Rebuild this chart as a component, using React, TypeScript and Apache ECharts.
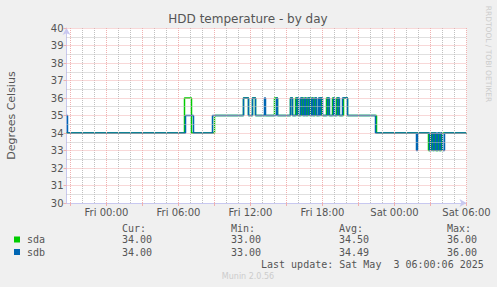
import React, { useEffect, useRef } from "react";
import * as echarts from "echarts";

// time in minutes relative to Fri 00:00
const START_MIN = -200; // Thu 20:40
const END_MIN = 1800; // Sat 06:00

const xTickHours = [0, 6, 12, 18, 24, 30];
const xTickLabels = ["Fri 00:00", "Fri 06:00", "Fri 12:00", "Fri 18:00", "Sat 00:00", "Sat 06:00"];
const yTicks = [30, 31, 32, 33, 34, 35, 36, 37, 38, 39, 40];

// [minutes, value] change points (value held until the next point)
const sdaSteps: [number, number][] = [
  [-200, 34], [390, 36], [425, 34], [540, 35],
  [685, 36], [710, 35], [730, 36], [745, 35],
  [840, 36], [855, 35], [920, 36], [930, 35],
  [945, 36], [955, 35], [975, 36], [985, 35], [995, 36], [1000, 35],
  [1010, 36], [1020, 35], [1030, 36], [1035, 35], [1045, 36], [1050, 35],
  [1065, 36], [1075, 35], [1100, 36], [1110, 35], [1130, 36], [1135, 35],
  [1150, 36], [1160, 35], [1185, 36], [1205, 35],
  [1350, 34],
  [1610, 33], [1620, 34], [1630, 33], [1635, 34], [1645, 33], [1660, 34],
  [1665, 33], [1675, 34], [1800, 34],
];

const sdbSteps: [number, number][] = [
  [-200, 35], [-195, 34], [395, 35], [435, 34], [530, 35],
  [685, 36], [710, 35], [730, 36], [745, 35], [790, 36], [795, 35],
  [850, 36], [855, 35], [920, 36], [930, 35],
  [950, 36], [960, 35], [970, 36], [980, 35], [990, 36], [995, 35],
  [1005, 36], [1015, 35], [1025, 36], [1030, 35], [1040, 36], [1050, 35],
  [1060, 36], [1065, 35], [1070, 36], [1080, 35], [1105, 36], [1115, 35],
  [1135, 36], [1140, 35], [1155, 36], [1165, 35], [1180, 36], [1205, 35],
  [1345, 34],
  [1550, 33], [1555, 34], [1615, 33], [1625, 34], [1635, 33], [1640, 34],
  [1650, 33], [1655, 34], [1665, 33], [1670, 34], [1680, 33], [1690, 34],
  [1800, 34],
];

const seriesNames = ["sda", "sdb"];
const seriesColors = ["#00cc00", "#0066b3"];
const curValues = ["34.00", "34.00"];
const minValues = ["33.00", "33.00"];
const avgValues = ["34.50", "34.49"];
const maxValues = ["36.00", "36.00"];
const lastUpdate = "Last update: Sat May  3 06:00:06 2025";

const RED = "#f0b0b0";
const GREY = "#c0c0c0";
const AXIS = "#c8c8f0";
const MONO = "DejaVu Sans Mono";
const SANS = "DejaVu Sans";

export default function App() {
  const ref = useRef<HTMLDivElement>(null);
  useEffect(() => {
    if (!ref.current) return;
    const chart = echarts.init(ref.current, undefined, { renderer: "svg" });

    const gridLines: any[] = [];
    for (let h = -3; h <= 30; h++) {
      gridLines.push({ xAxis: h, lineStyle: { color: h % 3 === 0 ? RED : GREY, type: [1, 1], width: 1 } });
    }
    for (let v = 30.5; v <= 40; v += 0.5) {
      gridLines.push({ yAxis: v, lineStyle: { color: v % 1 === 0 ? RED : GREY, type: [1, 1], width: 1 } });
    }

    const toData = (s: [number, number][]) => s.map(([m, v]) => [m / 60, v]);

    const legendGraphics: any[] = [];
    const headers = [["Cur:", 122], ["Min:", 231], ["Avg:", 339], ["Max:", 447]] as const;
    headers.forEach(([t, x]) =>
      legendGraphics.push({ type: "text", x, y: 228, style: { text: t, font: `10px '${MONO}'`, fill: "#555", verticalAlign: "middle" } })
    );
    seriesNames.forEach((n, i) => {
      const y = 239.5 + i * 12.5;
      legendGraphics.push({ type: "rect", shape: { x: 14, y: y - 3, width: 6, height: 6 }, style: { fill: seriesColors[i] } });
      legendGraphics.push({ type: "text", x: 27, y, style: { text: n, font: `10px '${MONO}'`, fill: "#555", verticalAlign: "middle" } });
      [curValues[i], minValues[i], avgValues[i], maxValues[i]].forEach((val, j) =>
        legendGraphics.push({ type: "text", x: headers[j][1], y, style: { text: val, font: `10px '${MONO}'`, fill: "#555", verticalAlign: "middle" } })
      );
    });

    chart.setOption({
      animation: false,
      backgroundColor: "#f0f0f0",
      textStyle: { fontFamily: SANS },
      grid: {
        left: 66.5, top: 28, width: 400, height: 175,
        show: true, backgroundColor: "#ffffff", borderWidth: 0,
        containLabel: false, outerBoundsMode: "none",
      },
      xAxis: {
        type: "value",
        min: START_MIN / 60,
        max: END_MIN / 60,
        splitLine: { show: false },
        axisLine: { onZero: false, lineStyle: { color: AXIS, width: 1 }, symbol: ["none", "arrow"], symbolSize: [6, 7] },
        axisTick: { show: true, length: 3, lineStyle: { color: RED }, customValues: [-3, 0, 3, 6, 9, 12, 15, 18, 21, 24, 27, 30] },
        axisLabel: {
          customValues: xTickHours,
          formatter: (v: number) => xTickLabels[xTickHours.indexOf(Math.round(v))] ?? "",
          color: "#555",
          fontSize: 10,
          margin: 4,
          fontFamily: SANS,
        },
      },
      yAxis: {
        type: "value",
        min: 30,
        max: 40,
        interval: 1,
        name: "Degrees Celsius",
        nameLocation: "middle",
        nameGap: 50,
        nameTextStyle: { color: "#555", fontSize: 11, fontFamily: SANS },
        splitLine: { show: false },
        axisLine: { onZero: false, lineStyle: { color: AXIS, width: 1 }, symbol: ["none", "arrow"], symbolSize: [6, 7] },
        axisTick: { show: true, length: 3, lineStyle: { color: RED } },
        axisLabel: {
          color: "#555",
          fontSize: 10,
          margin: 3,
          fontFamily: SANS,
          formatter: (v: number) => (yTicks.includes(v) ? String(v) : ""),
        },
      },
      series: [
        {
          type: "line",
          name: "grid",
          data: [[START_MIN / 60, 30]],
          showSymbol: false,
          lineStyle: { opacity: 0 },
          silent: true,
          z: 1,
          markLine: { symbol: ["none", "none"], silent: true, label: { show: false }, data: gridLines, animation: false },
        },
        {
          type: "line",
          name: seriesNames[0],
          data: toData(sdaSteps),
          step: "end",
          showSymbol: false,
          lineStyle: { color: seriesColors[0], width: 1.5 },
          z: 3,
        },
        {
          type: "line",
          name: seriesNames[1],
          data: toData(sdbSteps),
          step: "end",
          showSymbol: false,
          lineStyle: { color: seriesColors[1], width: 1.5 },
          z: 4,
        },
      ],
      graphic: [
        { type: "text", x: 248, y: 19, style: { text: "HDD temperature - by day", font: `12px '${SANS}'`, fill: "#555", align: "center", verticalAlign: "middle" } },
        { type: "text", x: 488, y: 54, rotation: -Math.PI / 2, style: { text: "RRDTOOL / TOBI OETIKER", font: `7.5px '${SANS}'`, fill: "#cccccc", align: "center", verticalAlign: "middle" } },
        ...legendGraphics,
        { type: "text", x: 261, y: 264, style: { text: lastUpdate, font: `10px '${MONO}'`, fill: "#555", verticalAlign: "middle" } },
        { type: "text", x: 248, y: 276, style: { text: "Munin 2.0.56", font: `8px '${SANS}'`, fill: "#cccccc", align: "center", verticalAlign: "middle" } },
      ],
    });
    return () => chart.dispose();
  }, []);
  return <div ref={ref} style={{ position: "fixed", left: 0, top: 0, width: 497, height: 287 }} />;
}
